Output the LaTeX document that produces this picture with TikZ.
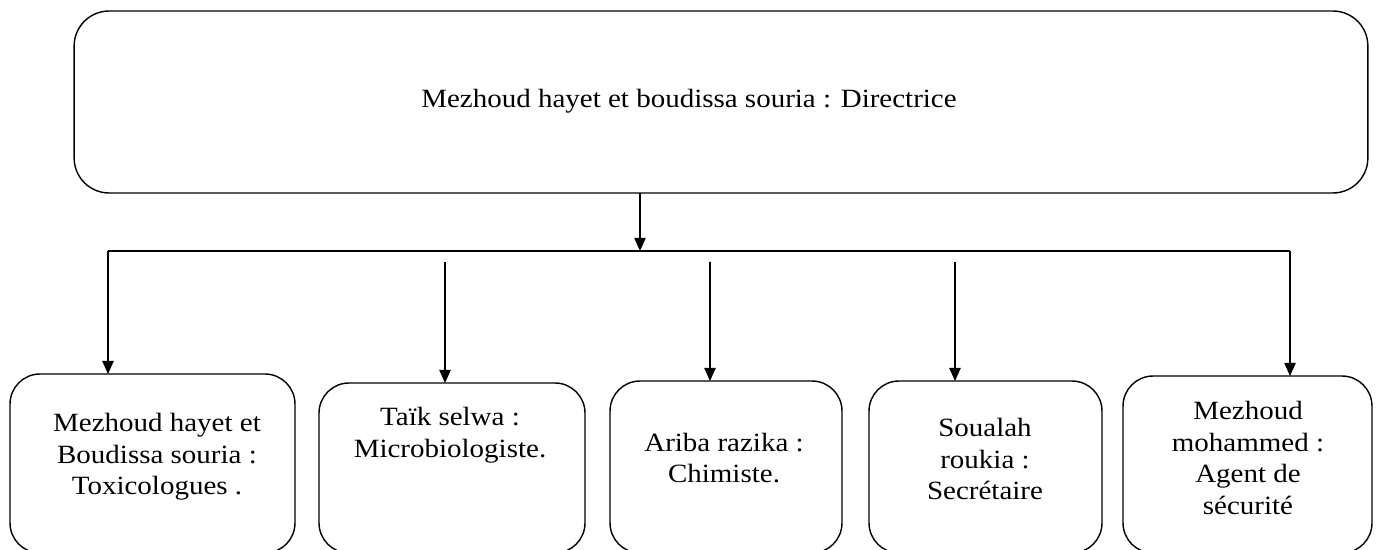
\documentclass[tikz,border=0pt]{standalone}
\usepackage{fontspec}
\setmainfont[FakeStretch=1.1]{Liberation Serif}
\usetikzlibrary{arrows.meta}

\tikzset{
 box/.style={draw,rounded corners=0.6cm,line width=0.8pt,inner sep=0pt,outer sep=0pt},
 txt/.style={align=center,font=\fontsize{15}{18}\selectfont},
 link/.style={line width=0.8pt,-{Triangle[length=7.5pt,width=6.5pt]}}
}

\begin{document}
\begin{tikzpicture}[x=0.02cm,y=-0.02cm]
 \clip (0,0) rectangle (1381,550);
 % boxes
 \node[box,rounded corners=0.7cm,minimum width=25.88cm,minimum height=3.64cm] (p_0) at (721,102) {};
 \node[box,minimum width=5.7cm,minimum height=3.58cm] (p_1) at (152.5,463.5) {};
 \node[box,minimum width=5.32cm,minimum height=3.4cm] (p_2) at (452,468) {};
 \node[box,minimum width=4.64cm,minimum height=3.44cm] (p_3) at (726,467) {};
 \node[box,minimum width=4.66cm,minimum height=3.44cm] (p_4) at (985.5,467) {};
 \node[box,minimum width=4.98cm,minimum height=3.54cm] (p_5) at (1247.5,464.5) {};
 % texts
 \node[txt] (t_0) at (689,101) {Mezhoud hayet et boudissa souria : Directrice};
 \node[txt] (t_1) at (157,457) {Mezhoud hayet et\\Boudissa souria :\\Toxicologues .};
 \node[txt] (t_2) at (450,435) {Taïk selwa :\\Microbiologiste.};
 \node[txt] (t_3) at (724,458) {Ariba razika :\\Chimiste.};
 \node[txt] (t_4) at (985,459) {Soualah\\roukia :\\Secrétaire};
 \node[txt] (t_5) at (1248,458) {Mezhoud\\mohammed :\\Agent de\\sécurité};
 % bus
 \coordinate (b_0) at (640,251);
 \coordinate (b_1) at (108,251);
 \coordinate (b_5) at (1290,251);
 \coordinate (b_2) at (445,262);
 \coordinate (b_3) at (710,262);
 \coordinate (b_4) at (955,262);
 \draw[line width=0.8pt] (b_1) -- (b_5);
 \path[link]
 (p_0.south -| b_0) edge (b_0)
 (b_1) edge (p_1.north -| b_1)
 (b_2) edge (p_2.north -| b_2)
 (b_3) edge (p_3.north -| b_3)
 (b_4) edge (p_4.north -| b_4)
 (b_5) edge (p_5.north -| b_5);
\end{tikzpicture}
\end{document}
